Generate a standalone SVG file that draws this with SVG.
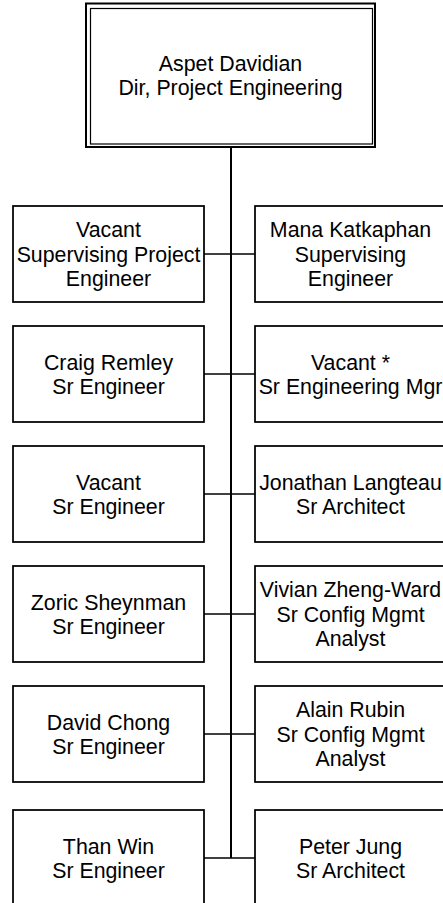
<svg xmlns="http://www.w3.org/2000/svg" width="443" height="903" viewBox="0 0 443 903">
<style>
.box{fill:#fff;stroke:#000;stroke-width:1.75}
.outer{fill:#fff;stroke:#000;stroke-width:2}
.inner{fill:none;stroke:#000;stroke-width:1.2}
.conn{fill:none;stroke:#000;stroke-width:1.5}
.trunk{fill:none;stroke:#000;stroke-width:2}
text{font-family:"Liberation Sans",Arial,sans-serif;font-size:21.33px;fill:#000;text-anchor:middle}
</style>
<rect width="443" height="903" fill="#fff"/>
<g id="connectors">
<line class="trunk" x1="231" y1="147" x2="231" y2="858"/>
<line class="conn" x1="204" y1="254" x2="255" y2="254"/>
<line class="conn" x1="204" y1="374" x2="255" y2="374"/>
<line class="conn" x1="204" y1="494" x2="255" y2="494"/>
<line class="conn" x1="204" y1="614" x2="255" y2="614"/>
<line class="conn" x1="204" y1="734" x2="255" y2="734"/>
<line class="conn" x1="204" y1="858" x2="255" y2="858"/>
</g>
<g id="n-aspet">
<rect class="outer" x="86" y="3.5" width="289" height="143.5"/>
<rect class="inner" x="90.5" y="8.5" width="282" height="135.5"/>
<text x="230.5" y="70.7">Aspet Davidian</text>
<text x="230.5" y="95.2">Dir, Project Engineering</text>
</g>
<g id="n-vacant-spe">
<rect class="box" x="13" y="206" width="191" height="96"/>
<text x="108.5" y="237">Vacant</text>
<text x="108.5" y="261.5">Supervising Project</text>
<text x="108.5" y="286">Engineer</text>
</g>
<g id="n-mana">
<rect class="box" x="255" y="206" width="191" height="96"/>
<text x="350.5" y="237">Mana Katkaphan</text>
<text x="350.5" y="261.5">Supervising</text>
<text x="350.5" y="286">Engineer</text>
</g>
<g id="n-craig">
<rect class="box" x="13" y="326" width="191" height="96"/>
<text x="108.5" y="369.5">Craig Remley</text>
<text x="108.5" y="394">Sr Engineer</text>
</g>
<g id="n-vacant-sem">
<rect class="box" x="255" y="326" width="191" height="96"/>
<text x="350.5" y="369.5">Vacant *</text>
<text x="350.5" y="394">Sr Engineering Mgr</text>
</g>
<g id="n-vacant-se">
<rect class="box" x="13" y="446" width="191" height="96"/>
<text x="108.5" y="489.5">Vacant</text>
<text x="108.5" y="514">Sr Engineer</text>
</g>
<g id="n-jonathan">
<rect class="box" x="255" y="446" width="191" height="96"/>
<text x="350.5" y="489.5">Jonathan Langteau</text>
<text x="350.5" y="514">Sr Architect</text>
</g>
<g id="n-zoric">
<rect class="box" x="13" y="566" width="191" height="96"/>
<text x="108.5" y="609.5">Zoric Sheynman</text>
<text x="108.5" y="634">Sr Engineer</text>
</g>
<g id="n-vivian">
<rect class="box" x="255" y="566" width="191" height="96"/>
<text x="350.5" y="597">Vivian Zheng-Ward</text>
<text x="350.5" y="621.5">Sr Config Mgmt</text>
<text x="350.5" y="646">Analyst</text>
</g>
<g id="n-david">
<rect class="box" x="13" y="686" width="191" height="96"/>
<text x="108.5" y="729.5">David Chong</text>
<text x="108.5" y="754">Sr Engineer</text>
</g>
<g id="n-alain">
<rect class="box" x="255" y="686" width="191" height="96"/>
<text x="350.5" y="717">Alain Rubin</text>
<text x="350.5" y="741.5">Sr Config Mgmt</text>
<text x="350.5" y="766">Analyst</text>
</g>
<g id="n-than">
<rect class="box" x="13" y="810" width="191" height="96"/>
<text x="108.5" y="853.5">Than Win</text>
<text x="108.5" y="878">Sr Engineer</text>
</g>
<g id="n-peter">
<rect class="box" x="255" y="810" width="191" height="96"/>
<text x="350.5" y="853.5">Peter Jung</text>
<text x="350.5" y="878">Sr Architect</text>
</g>
</svg>
